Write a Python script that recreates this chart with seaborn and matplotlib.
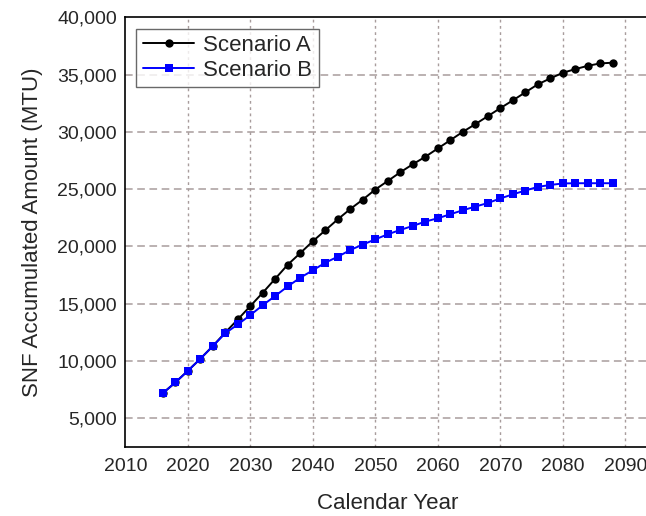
import numpy as np
import pandas as pd
import matplotlib
matplotlib.use("Agg")
import matplotlib.pyplot as plt
from matplotlib.ticker import FuncFormatter, MultipleLocator
import seaborn as sns

# values (MTU), one point every 2 years
years = list(range(2016, 2089, 2))
scenario_a = [7174, 8110, 9130, 10180, 11290, 12480, 13620, 14790, 15960, 17183,
              18410, 19420, 20450, 21410, 22370, 23270, 24090, 24970, 25720, 26480,
              27180, 27830, 28560, 29280, 30010, 30680, 31380, 32080, 32760, 33460,
              34160, 34680, 35170, 35490, 35780, 35990, 36050]
scenario_b = [7174, 8110, 9130, 10180, 11290, 12420, 13180, 14000, 14870, 15680,
              16510, 17270, 17910, 18580, 19100, 19690, 20160, 20620, 21060, 21440,
              21790, 22170, 22460, 22810, 23160, 23480, 23790, 24190, 24550, 24880,
              25200, 25370, 25500, 25520, 25520, 25520, 25520]
labels = ["Scenario A", "Scenario B"]

df = pd.DataFrame({
    "year": years * 2,
    "amount": scenario_a + scenario_b,
    "scenario": [labels[0]] * len(years) + [labels[1]] * len(years),
})

sns.set_style("white")
plt.rcParams["font.family"] = ["Liberation Sans", "DejaVu Sans"]

fig = plt.figure(figsize=(6.46, 5.16), dpi=100)
ax = fig.add_axes([0.194, 0.1343, 0.8127, 0.8318])

sns.lineplot(data=df, x="year", y="amount", hue="scenario", style="scenario",
             markers=["o", "s"], dashes=False, palette=["black", "#0000ff"],
             markersize=6, linewidth=1.4, markeredgewidth=0, ax=ax)

ax.set_xlim(2010, 2094)
ax.set_ylim(2500, 40000)
ax.set_xticks(np.arange(2010, 2091, 10))
ax.set_yticks(np.arange(5000, 40001, 5000))
ax.xaxis.set_minor_locator(MultipleLocator(5))
ax.yaxis.set_minor_locator(MultipleLocator(2500))
ax.yaxis.set_major_formatter(FuncFormatter(lambda v, p: f"{int(v):,}"))

ax.tick_params(which="major", direction="in", length=6, width=1.2, labelsize=14, pad=6)
ax.tick_params(which="minor", direction="in", length=3, width=1.0)
ax.tick_params(axis="x", pad=8)

for s in ax.spines.values():
    s.set_color("black")
    s.set_linewidth(1.2)

# dashed grid like the original
for y in np.arange(5000, 40000, 5000):
    ax.axhline(y, color="#a89c9c", lw=1.1, ls=(0, (5, 3)), zorder=0)
for x in np.arange(2020, 2091, 10):
    ax.axvline(x, color="#a89c9c", lw=1.0, ls=(0, (2, 2.5)), zorder=0)

ax.set_xlabel("Calendar Year", fontsize=16, labelpad=13)
ax.set_ylabel("SNF Accumulated Amount (MTU)", fontsize=16, labelpad=10)

leg = ax.legend(loc="upper left", bbox_to_anchor=(0.0, 1.0), fontsize=16,
                frameon=True, fancybox=False, edgecolor="#444444",
                handlelength=2.3, borderpad=0.3, labelspacing=0.15, handletextpad=0.4)
leg.get_frame().set_linewidth(1.0)

fig.savefig("out.png", dpi=100)
